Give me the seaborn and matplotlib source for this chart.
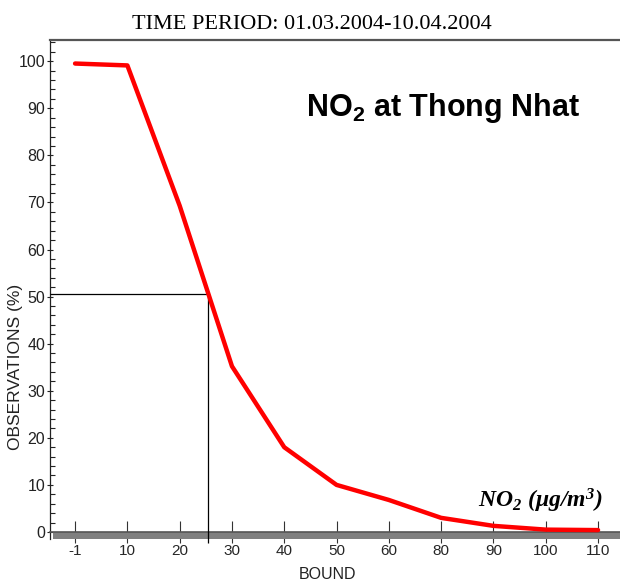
import numpy as np
import pandas as pd
import matplotlib
matplotlib.use('Agg')
import matplotlib.pyplot as plt
from matplotlib import font_manager as fm
from matplotlib.ticker import MultipleLocator
import seaborn as sns

# data
bounds = ['-1', '10', '20', '30', '40', '50', '60', '80', '90', '100', '110']
observations = [99.5, 99.1, 69.3, 35.2, 18.0, 10.0, 6.8, 3.0, 1.3, 0.5, 0.4]
bound_values = [-1, 10, 20, 30, 40, 50, 60, 80, 90, 100, 110]
median_bound = 25.4
median_pct = 50.5
yticks = list(range(0, 101, 10))

sns.set_theme(style='white')
plt.rcParams['font.family'] = ['Liberation Sans', 'DejaVu Sans']
plt.rcParams['mathtext.fontset'] = 'custom'
plt.rcParams['mathtext.rm'] = 'Liberation Serif:bold:italic'
plt.rcParams['mathtext.it'] = 'Liberation Serif:bold:italic'
plt.rcParams['mathtext.sf'] = 'Liberation Sans:bold'

names = {f.name for f in fm.fontManager.ttflist}
narrow = 'Liberation Sans Narrow' if 'Liberation Sans Narrow' in names else 'Liberation Sans'
tick_size = 12.5 if narrow == 'Liberation Sans Narrow' else 11.5

pos = np.arange(len(bounds))
df = pd.DataFrame({'pos': pos, 'obs': observations})

fig = plt.figure(figsize=(6.2, 5.83), dpi=100)
ax = fig.add_axes([0.0806, 0.0762, 0.9194, 0.8552])

sns.lineplot(data=df, x='pos', y='obs', color='red', lw=3.2, ax=ax, zorder=4)

ax.set_xlim(-0.48, 10.42)
ax.set_ylim(-1.4, 104.5)

# grey floor band under the zero line
ax.axhspan(-1.4, 0, xmin=0.006, color='#808080', lw=0, zorder=2)

# median marker lines
mpos = np.interp(median_bound, bound_values, pos)
ax.hlines(median_pct, ax.get_xlim()[0], mpos, color='black', lw=0.9, zorder=3)
ax.vlines(mpos, -2.3, median_pct, color='black', lw=0.9, zorder=3, clip_on=False)

ax.set_xticks(pos)
ax.set_xticklabels(bounds, family=[narrow, 'DejaVu Sans'], fontsize=tick_size, color='#222222')
ax.set_yticks(yticks)
ax.set_yticklabels([str(v) for v in yticks], family=[narrow, 'DejaVu Sans'], fontsize=tick_size, color='#222222')
ax.yaxis.set_minor_locator(MultipleLocator(2))

ax.tick_params(axis='x', direction='inout', length=16, width=0.8, color='#333333', pad=1, bottom=True)
ax.tick_params(axis='y', which='major', direction='inout', length=5, width=0.8, color='#222222', pad=1, left=True)
ax.tick_params(axis='y', which='minor', direction='in', length=3.5, width=0.8, color='#222222', left=True)

ax.spines['left'].set_color('#222222')
ax.spines['left'].set_linewidth(0.9)
ax.spines['top'].set_color('#555555')
ax.spines['top'].set_linewidth(1.6)
ax.spines['right'].set_visible(False)
ax.spines['bottom'].set_position(('data', 0))
ax.spines['bottom'].set_color('#555555')
ax.spines['bottom'].set_linewidth(1.2)

ax.set_xlabel('BOUND', family=[narrow, 'DejaVu Sans'], fontsize=tick_size, color='#222222', va='top')
ax.xaxis.set_label_coords(0.486, -0.058)
ax.set_ylabel('OBSERVATIONS (%)', fontsize=12.5, color='#222222')
ax.yaxis.set_label_coords(-0.047, 0.345)

ax.text(0.449, 0.848, r'$\mathsf{NO_2}$ at Thong Nhat', transform=ax.transAxes,
        fontsize=22, fontweight='bold', va='baseline', ha='left', color='black')
ax.text(0.751, 0.062, r'$NO_2\ (\mu g/m^3)$', transform=ax.transAxes,
        fontsize=17, va='baseline', ha='left', color='black')

fig.text(0.503, 0.950, 'TIME PERIOD: 01.03.2004-10.04.2004', family=['Liberation Serif', 'DejaVu Serif'],
         fontsize=16, ha='center', va='baseline', color='black')

fig.savefig('out.png', dpi=100)
